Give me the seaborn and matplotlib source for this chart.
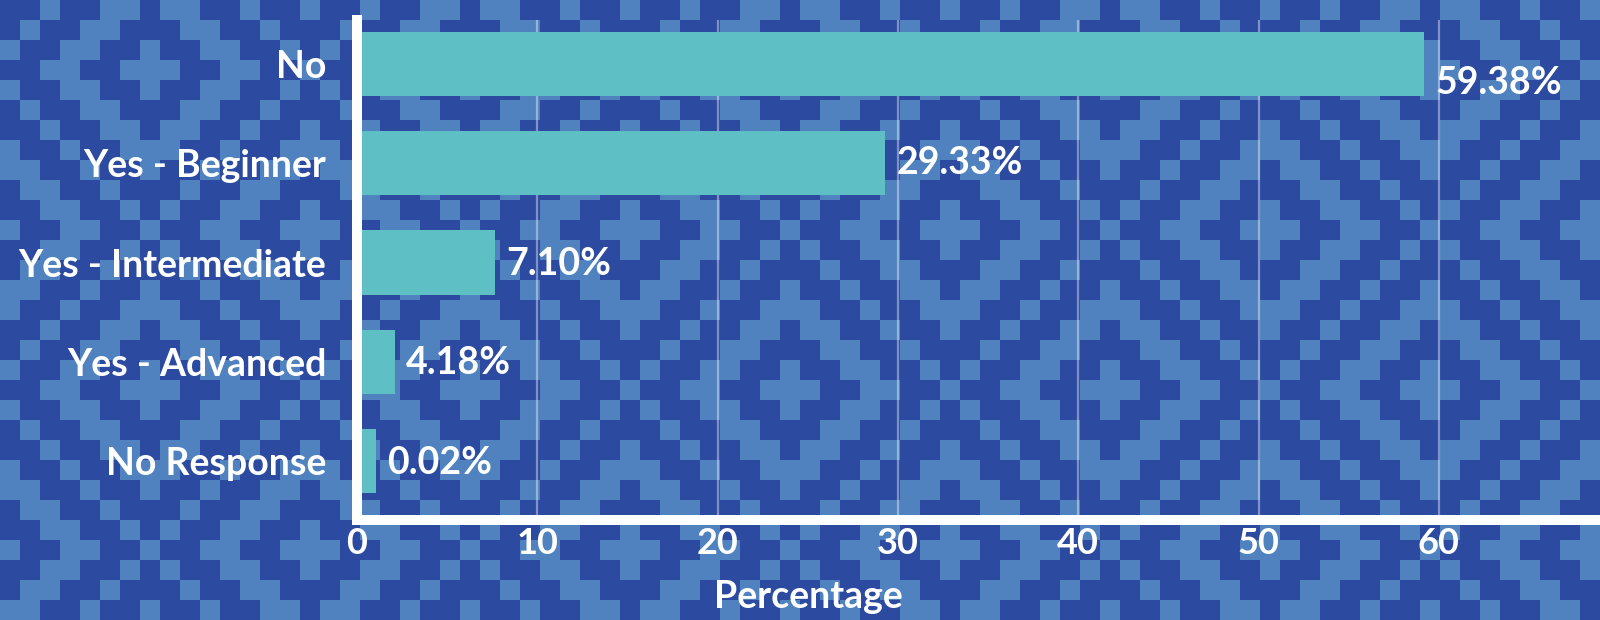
import numpy as np
import pandas as pd
import matplotlib
matplotlib.use("Agg")
import matplotlib.pyplot as plt
from matplotlib.colors import ListedColormap
import seaborn as sns

# ---- data ----
categories = ["No", "Yes - Beginner", "Yes - Intermediate", "Yes - Advanced", "No Response"]
bar_values = [59.2, 29.3, 7.65, 2.1, 1.05]
value_labels = ["59.38%", "29.33%", "7.10%", "4.18%", "0.02%"]
x_ticks = [0, 10, 20, 30, 40, 50, 60]
x_title = "Percentage"

# ---- style ----
DARK = "#2c4aa0"
LIGHT = "#4f82be"
TEAL = "#5ebfc5"
label_dy_pt = [-14, 0, -1, -1, -1]

sns.set_theme(style="white")
plt.rcParams['font.family'] = ['Lato', 'DejaVu Sans']

fig = plt.figure(figsize=(16, 6.2), dpi=100)

# decorative background pattern
bg = fig.add_axes([0, 0, 1, 1], zorder=0)
cell = 20
nx, ny = 1600 // cell + 2, 620 // cell + 2
ii, jj = np.meshgrid(np.arange(ny), np.arange(nx), indexing='ij')
P = 16
def tdist(oi, oj):
    di = (ii - oi) % P
    di = np.minimum(di, P - di)
    dj = (jj - oj) % P
    dj = np.minimum(dj, P - dj)
    return di + dj
d = np.minimum(tdist(3, 7), tdist(3 + P // 2, 7 + P // 2))
pattern = np.isin(d, [0, 1, 4, 5, 8]).astype(int)
bg.imshow(pattern, cmap=ListedColormap([DARK, LIGHT]), interpolation='nearest',
          extent=(0, nx * cell, ny * cell, 0), aspect='auto')
bg.set_xlim(0, 1600)
bg.set_ylim(620, 0)
bg.axis('off')

# main axes
ax = fig.add_axes([357 / 1600, 100 / 620, 1243 / 1600, 500 / 620], zorder=1)
ax.patch.set_alpha(0)
df = pd.DataFrame({"category": categories, "value": bar_values})
sns.barplot(data=df, x="value", y="category", color=TEAL, saturation=1,
            width=0.645, ax=ax, zorder=2, edgecolor='none', linewidth=0)

ax.set_xlim(0, 68.94)
ax.set_ylim(4.59, -0.44)
ax.set_xticks(x_ticks)
ax.set_xticklabels([str(t) for t in x_ticks])
ax.set_ylabel("")

ax.xaxis.grid(True, color='white', alpha=0.4, linewidth=1.6)
ax.yaxis.grid(False)
ax.set_axisbelow(True)

for side in ['top', 'right']:
    ax.spines[side].set_visible(False)
for side in ['left', 'bottom']:
    ax.spines[side].set_color('white')
    ax.spines[side].set_linewidth(7.2)
    ax.spines[side].set_capstyle('projecting')
    ax.spines[side].set_zorder(3)

ax.tick_params(axis='y', length=0, pad=22, labelsize=27, labelcolor='white')
ax.tick_params(axis='x', length=0, pad=5, labelsize=26, labelcolor='white')
for lbl in ax.get_yticklabels() + ax.get_xticklabels():
    lbl.set_fontweight('bold')

for i, (v, s, dy) in enumerate(zip(bar_values, value_labels, label_dy_pt)):
    ax.annotate(s, xy=(v, i), xytext=(8, dy), textcoords='offset points',
                va='center', ha='left', color='white', fontsize=27,
                fontweight='bold', zorder=4)

ax.set_xlabel(x_title, fontsize=27, fontweight='bold', color='white')
ax.xaxis.set_label_coords(0.3628, -0.176)
ax.xaxis.label.set_va('baseline')

fig.savefig('out.png', dpi=100)
